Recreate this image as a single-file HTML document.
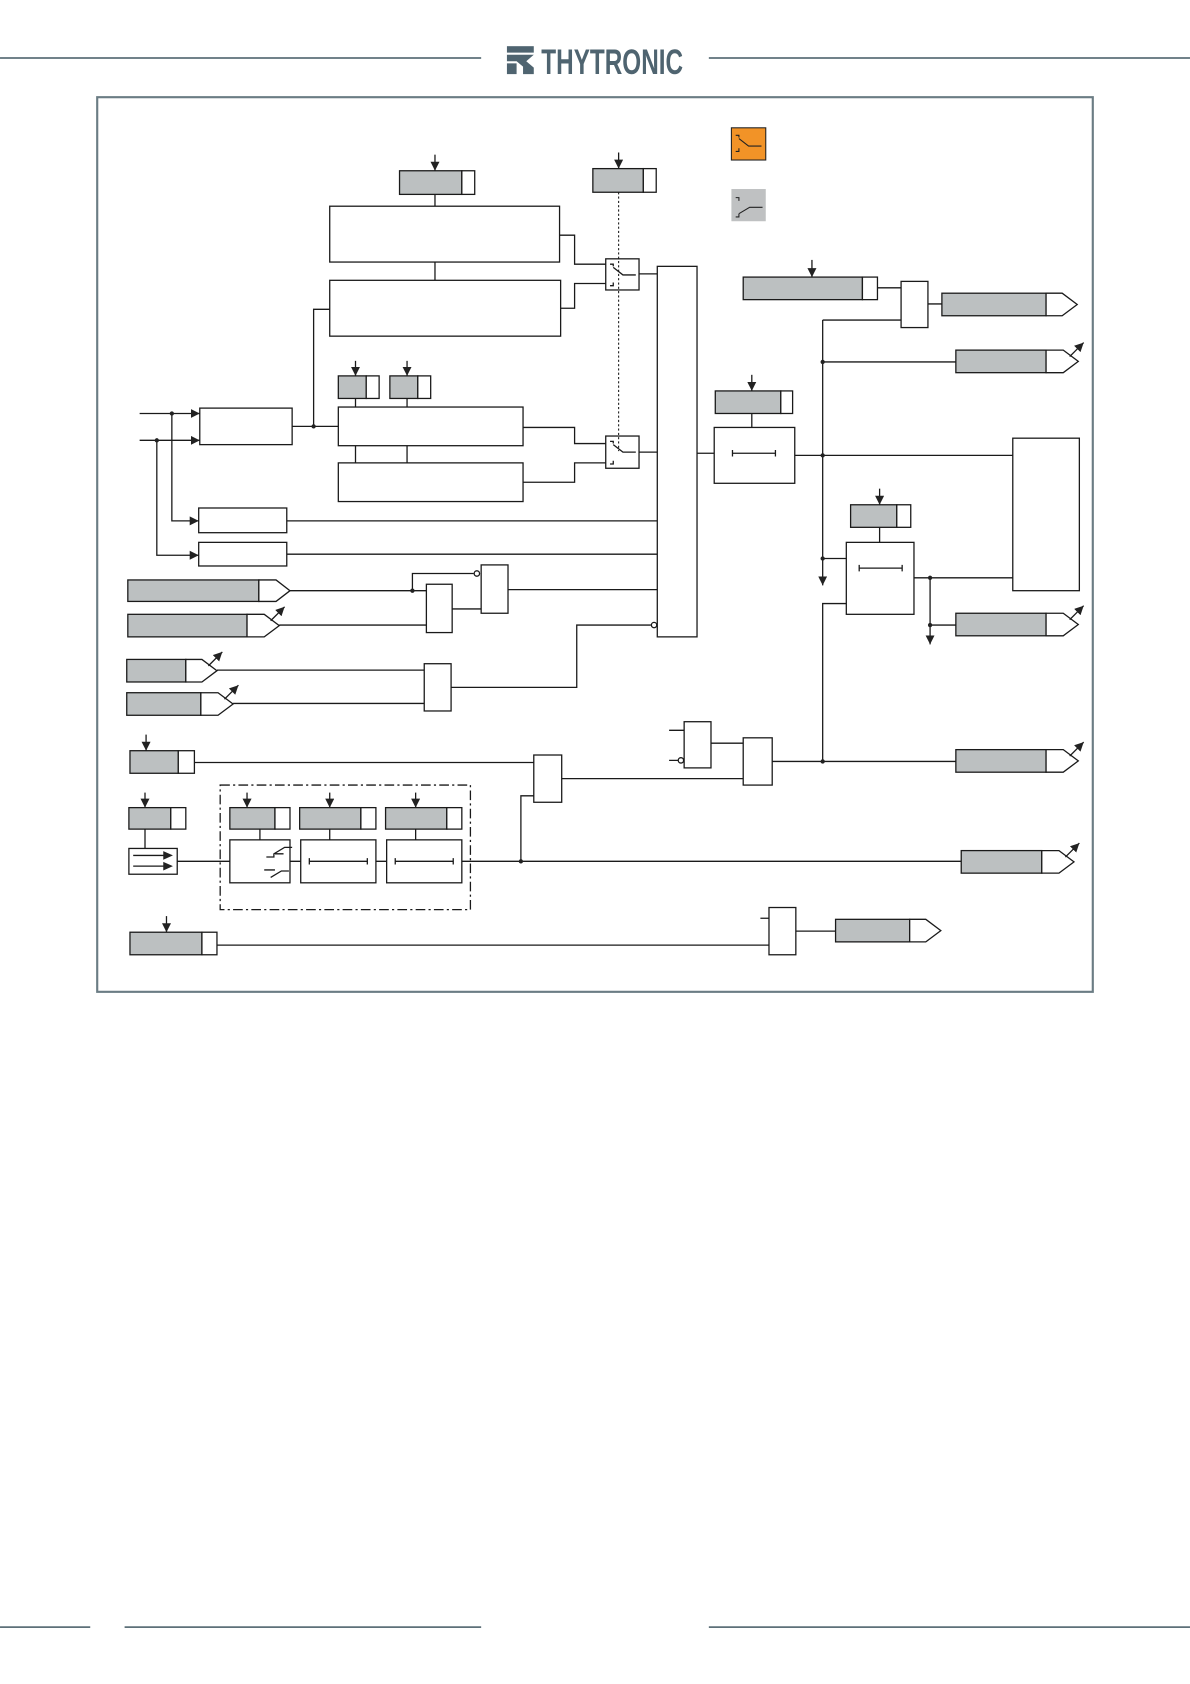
<!DOCTYPE html>
<html><head><meta charset="utf-8">
<style>
html,body{margin:0;padding:0;background:#fff;}
svg{display:block;}
</style></head>
<body>
<svg width="1190" height="1684" viewBox="0 0 1108 1568" xmlns="http://www.w3.org/2000/svg">
<defs>
<marker id="ar" viewBox="0 0 10 10" refX="10" refY="5" markerWidth="7" markerHeight="7" orient="auto-start-reverse"><path d="M0,0 L10,5 L0,10 z" fill="#222"/></marker>
</defs>
<g stroke="#5d7079" stroke-width="1.6">
<line x1="0" y1="54" x2="448" y2="54"/><line x1="660" y1="54" x2="1108" y2="54"/>
<line x1="0" y1="1515" x2="84" y2="1515"/><line x1="116" y1="1515" x2="448" y2="1515"/><line x1="660" y1="1515" x2="1108" y2="1515"/>
</g>
<g fill="#4f6470">
<rect x="472" y="43" width="25" height="6"/>
<polygon points="472,51 497,51 490,57 497,63 497,69 487,69 487,62 481,57 472,57"/>
<rect x="472" y="59" width="9" height="10"/>
</g>
<text x="504" y="69" font-family="Liberation Sans, sans-serif" font-size="33" font-weight="bold" fill="#4f6470" textLength="132" lengthAdjust="spacingAndGlyphs">THYTRONIC</text>
<rect x="90.5" y="90.5" width="927" height="833" fill="none" stroke="#6b7c84" stroke-width="2"/>
<rect x="681" y="119" width="32" height="30" fill="#f29327" stroke="#222" stroke-width="1"/>
<path d="M685,126 h3 v2 M685,141 h3 v-3 M688,129 l9,7 h12" fill="none" stroke="#222" stroke-width="1"/>
<rect x="681" y="176" width="32" height="30" fill="#bfc1c2"/>
<path d="M685,184 h3 v3 M685,202 h3 v-3 M688,199 l10,-6 h12" fill="none" stroke="#222" stroke-width="1"/>

<g fill="none" stroke="#1a1a1a" stroke-width="1.2">
<g>
<rect x="372" y="159" width="58" height="22" fill="#bcc0c1"/><rect x="430" y="159" width="12" height="22" fill="#fff"/>
<rect x="552" y="157" width="47" height="22" fill="#bcc0c1"/><rect x="599" y="157" width="12" height="22" fill="#fff"/>
<rect x="315" y="350" width="26" height="21" fill="#bcc0c1"/><rect x="341" y="350" width="12" height="21" fill="#fff"/>
<rect x="363" y="350" width="26" height="21" fill="#bcc0c1"/><rect x="389" y="350" width="12" height="21" fill="#fff"/>
<rect x="666" y="364" width="61" height="21" fill="#bcc0c1"/><rect x="727" y="364" width="11" height="21" fill="#fff"/>
<rect x="692" y="258" width="111" height="21" fill="#bcc0c1"/><rect x="803" y="258" width="14" height="21" fill="#fff"/>
<rect x="792" y="470" width="43" height="21" fill="#bcc0c1"/><rect x="835" y="470" width="13" height="21" fill="#fff"/>
<rect x="121" y="699" width="45" height="21" fill="#bcc0c1"/><rect x="166" y="699" width="15" height="21" fill="#fff"/>
<rect x="120" y="752" width="39" height="20" fill="#bcc0c1"/><rect x="159" y="752" width="14" height="20" fill="#fff"/>
<rect x="214" y="752" width="42" height="20" fill="#bcc0c1"/><rect x="256" y="752" width="14" height="20" fill="#fff"/>
<rect x="279" y="752" width="57" height="20" fill="#bcc0c1"/><rect x="336" y="752" width="14" height="20" fill="#fff"/>
<rect x="359" y="752" width="57" height="20" fill="#bcc0c1"/><rect x="416" y="752" width="14" height="20" fill="#fff"/>
<rect x="121" y="868" width="67" height="21" fill="#bcc0c1"/><rect x="188" y="868" width="14" height="21" fill="#fff"/>
</g>
<g marker-end="url(#ar)">
<line x1="405" y1="144" x2="405" y2="159"/><line x1="576" y1="142" x2="576" y2="157"/>
<line x1="331" y1="336" x2="331" y2="350"/><line x1="379" y1="336" x2="379" y2="350"/>
<line x1="700" y1="349" x2="700" y2="364"/><line x1="756" y1="242" x2="756" y2="258"/>
<line x1="819" y1="455" x2="819" y2="470"/><line x1="136" y1="684" x2="136" y2="699"/>
<line x1="135" y1="738" x2="135" y2="752"/><line x1="230" y1="738" x2="230" y2="752"/>
<line x1="307" y1="738" x2="307" y2="752"/><line x1="387" y1="738" x2="387" y2="752"/>
<line x1="155" y1="853" x2="155" y2="868"/>
<line x1="130" y1="385" x2="186" y2="385"/><line x1="130" y1="410" x2="186" y2="410"/>
<path d="M160,385 V485 H185"/><path d="M146,410 V517 H185"/>
<line x1="766" y1="298" x2="766" y2="545"/><line x1="866" y1="538" x2="866" y2="600"/>
</g>
<line x1="576" y1="179" x2="576" y2="420" stroke-dasharray="2,2" stroke-width="1"/>
<rect x="307" y="192" width="214" height="52"/><rect x="307" y="261" width="215" height="52"/>
<line x1="405" y1="181" x2="405" y2="192"/><line x1="405" y1="244" x2="405" y2="261"/>
<rect x="564" y="241" width="31" height="29"/><rect x="564" y="406" width="31" height="30"/>
<path d="M568,246 h3 v2 M568,266 h3 v-3 M571,249 l9,7 h12"/>
<path d="M568,411 h3 v2 M568,432 h3 v-3 M571,414 l9,7 h12"/>
<path d="M521,219 H535 V246 H564 M522,287 H535 V264 H564 M595,255 H612"/>
<rect x="612" y="248" width="37" height="345"/>
<rect x="315" y="379" width="172" height="36"/><rect x="315" y="431" width="172" height="36"/>
<path d="M331,371 V379 M379,371 V379 M331,415 V431 M379,415 V431"/>
<path d="M487,398 H535 V413 H564 M487,449 H535 V431 H564 M595,421 H612"/>
<rect x="186" y="380" width="86" height="34"/>
<path d="M272,397 H315 M292,397 V288 H307"/>
<rect x="185" y="473" width="82" height="23"/><rect x="185" y="505" width="82" height="22"/>
<path d="M267,485 H612 M267,516 H612"/>
<rect x="448" y="526" width="25" height="45"/><rect x="397" y="544" width="24" height="45"/>
<path d="M270,550 H397 M384,550 V534 H441 M260,582 H397 M421,567 H448 M473,549 H612"/>
<circle cx="444" cy="534" r="2.5" fill="#fff"/>
<rect x="395" y="618" width="25" height="44"/>
<path d="M202,624 H395 M217,655 H395 M420,640 H537 V582 H606"/>
<circle cx="609" cy="582" r="2.5" fill="#fff"/>
<rect x="665" y="398" width="75" height="52"/>
<path d="M682,422 H722 M682,419 v6 M722,419 v6 M700,385 V398 M649,422 H665 M740,424 H943"/>
<rect x="943" y="408" width="62" height="142"/>
<rect x="839" y="262" width="25" height="43"/>
<path d="M817,268 H839 M864,283 H877 M839,298 H766 M766,337 H890"/>
<rect x="788" y="505" width="63" height="67"/>
<path d="M800,529 H840 M800,526 v6 M840,526 v6 M819,491 V505 M766,520 H788 M851,538 H943 M866,582 H890 M788,562 H766 V709"/>
<rect x="637" y="672" width="25" height="43"/><rect x="692" y="687" width="27" height="44"/>
<path d="M623,680 H637 M623,708 H632 M662,692 H692 M719,709 H890"/>
<circle cx="634" cy="708" r="2.5" fill="#fff"/>
<rect x="497" y="703" width="26" height="44"/>
<path d="M181,710 H497 M523,725 H692"/>
<path d="M135,772 V790"/>
<rect x="120" y="790" width="45" height="24"/>
<path d="M124,796.5 H154 M124,806.5 H154"/>
<path d="M165,802 H214"/>
<rect x="205" y="731" width="233" height="116" stroke-dasharray="9,3,2,3"/>
<rect x="214" y="782" width="56" height="40"/><rect x="280" y="782" width="70" height="40"/><rect x="360" y="782" width="70" height="40"/>
<path d="M242,772 V782 M307,772 V782 M387,772 V782 M270,802 H280 M350,802 H360"/>
<path d="M256,795 h8 M248,798 h7 v-3 l10,-6 h7 M256,810 h-10 M252,817 l10,-6 h7"/>
<path d="M288,802 H342 M288,799 v6 M342,799 v6 M368,802 H422 M368,799 v6 M422,799 v6"/>
<path d="M430,802 H895 M485,802 V741 H497"/>
<path d="M202,880 H716 M708,855 H716 M741,867 H778"/>
<rect x="716" y="845" width="25" height="44"/>
</g>
<g fill="#222">
<path d="M152,792.5 l9,4 l-9,4z M152,802.5 l9,4 l-9,4z"/>
<circle cx="160" cy="385" r="2"/><circle cx="146" cy="410" r="2"/><circle cx="292" cy="397" r="2"/>
<circle cx="384" cy="550" r="2"/><circle cx="766" cy="424" r="2"/><circle cx="766" cy="337" r="2"/>
<circle cx="766" cy="520" r="2"/><circle cx="866" cy="538" r="2"/><circle cx="866" cy="582" r="2"/>
<circle cx="766" cy="709" r="2"/><circle cx="485" cy="802" r="2"/>
</g>
<g stroke="#1a1a1a" stroke-width="1.2">
<g fill="#bcc0c1">
<rect x="119" y="540" width="122" height="20"/><rect x="119" y="572" width="111" height="21"/>
<rect x="118" y="614" width="55" height="21"/><rect x="118" y="645" width="69" height="21"/>
<rect x="877" y="273" width="97" height="21"/><rect x="890" y="326" width="84" height="21"/>
<rect x="890" y="571" width="84" height="21"/><rect x="890" y="698" width="84" height="21"/>
<rect x="895" y="792" width="75" height="21"/><rect x="778" y="856" width="69" height="21"/>
</g>
<g fill="#fff">
<polygon points="241,540 257,540 270,550 257,560 241,560"/>
<polygon points="230,572 246,572 260,582.5 246,593 230,593"/>
<polygon points="173,614 188,614 202,624.5 188,635 173,635"/>
<polygon points="187,645 203,645 217,655.5 203,666 187,666"/>
<polygon points="974,273 989,273 1003,283.5 989,294 974,294"/>
<polygon points="974,326 990,326 1004,336.5 990,347 974,347"/>
<polygon points="974,571 990,571 1004,581.5 990,592 974,592"/>
<polygon points="974,698 990,698 1004,708.5 990,719 974,719"/>
<polygon points="970,792 986,792 1000,802.5 986,813 970,813"/>
<polygon points="847,856 862,856 876,866.5 862,877 847,877"/>
</g>
<g marker-end="url(#ar)" fill="none">
<line x1="252" y1="578" x2="265" y2="565"/>
<line x1="194" y1="620" x2="207" y2="607"/>
<line x1="209" y1="651" x2="222" y2="638"/>
<line x1="996" y1="332" x2="1009" y2="319"/>
<line x1="996" y1="577" x2="1009" y2="564"/>
<line x1="996" y1="704" x2="1009" y2="691"/>
<line x1="992" y1="798" x2="1005" y2="785"/>
</g>
</g>
</svg>
</body></html>
